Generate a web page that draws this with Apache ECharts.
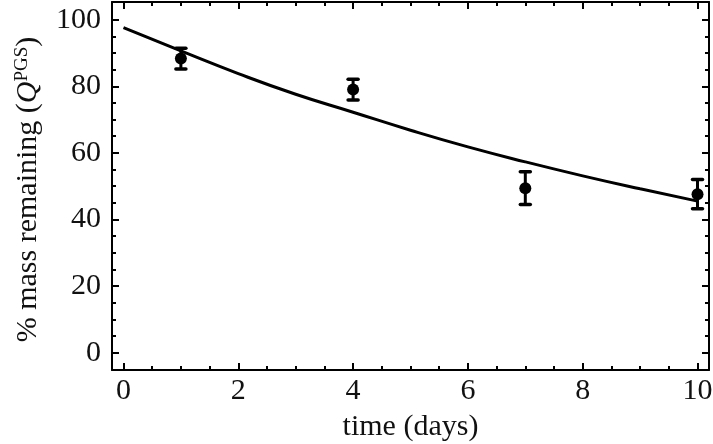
<!DOCTYPE html>
<html>
<head>
<meta charset="utf-8">
<script src="https://cdn.jsdelivr.net/npm/echarts@6/dist/echarts.min.js"></script>
<style>html,body{margin:0;padding:0;background:#fff}#c{width:713px;height:444px}</style>
</head>
<body>
<div id="c"></div>
<script>
// Data
var days = [1, 4, 7, 10];
var massMean = [88.3, 79.0, 49.4, 47.6];
var massErr = [3.1, 3.1, 4.9, 4.4];
var fitDays = [0, 1, 2, 3, 4, 5, 6, 7, 8, 9, 10];
var fitMass = [97.6, 90.6, 83.8, 77.6, 72.2, 66.8, 61.8, 57.3, 53.1, 49.2, 45.5];
var xMajorTicks = [0, 2, 4, 6, 8, 10];
var xMinorTicks = [0.5, 1, 1.5, 2.5, 3, 3.5, 4.5, 5, 5.5, 6.5, 7, 7.5, 8.5, 9, 9.5];
var yMajorTicks = [0, 20, 40, 60, 80, 100];
var yMinorTicks = [5, 10, 15, 25, 30, 35, 45, 50, 55, 65, 70, 75, 85, 90, 95];

var FONT = 'Liberation Serif';
var FS = 30;
var XMIN = -0.2, XMAX = 10.2, YMIN = -5.2, YMAX = 105.3;

function xAx(pos, ticks, len, showLine, showLabel, name) {
  var a = {
    type: 'value', position: pos, min: XMIN, max: XMAX,
    axisLine: {show: showLine, onZero: false, lineStyle: {color: '#000', width: 2}},
    axisTick: {show: true, inside: true, length: len, customValues: ticks, lineStyle: {color: '#000', width: 2}},
    axisLabel: {show: showLabel, customValues: ticks, fontFamily: FONT, fontSize: FS, color: '#111', margin: 6},
    splitLine: {show: false}
  };
  if (name) {
    a.name = name; a.nameLocation = 'middle'; a.nameGap = 42;
    a.nameTextStyle = {fontFamily: FONT, fontSize: FS, color: '#111'};
  }
  return a;
}
function yAx(pos, ticks, len, showLine, showLabel, named) {
  var a = {
    type: 'value', position: pos, min: YMIN, max: YMAX,
    axisLine: {show: showLine, onZero: false, lineStyle: {color: '#000', width: 2}},
    axisTick: {show: true, inside: true, length: len, customValues: ticks, lineStyle: {color: '#000', width: 2}},
    axisLabel: {show: showLabel, customValues: ticks, fontFamily: FONT, fontSize: FS, color: '#111', margin: 11},
    splitLine: {show: false}
  };
  if (named) {
    a.name = '{n|% mass remaining (}{q|Q}{s|PGS}{n|)}';
    a.nameLocation = 'middle'; a.nameGap = 68; a.nameRotate = 90;
    a.nameTextStyle = {
      fontFamily: FONT, fontSize: FS, color: '#111', padding: [0, 7, 0, 0],
      rich: {
        n: {fontFamily: FONT, fontSize: FS, color: '#111'},
        q: {fontFamily: FONT, fontSize: FS, fontStyle: 'italic', color: '#111'},
        s: {fontFamily: FONT, fontSize: 19, color: '#111', verticalAlign: 'top', padding: [0, 0, 12, 0]}
      }
    };
  }
  return a;
}

var chart = echarts.init(document.getElementById('c'), null, {renderer: 'canvas'});
chart.setOption({
  animation: false,
  backgroundColor: '#fff',
  grid: {left: 112, right: 4, top: 2, bottom: 74, containLabel: false, outerBoundsMode: 'none'},
  xAxis: [
    xAx('bottom', xMajorTicks, 7, true, true, 'time (days)'),
    xAx('bottom', xMinorTicks, 4, false, false),
    xAx('top', xMajorTicks, 7, true, false),
    xAx('top', xMinorTicks, 4, false, false)
  ],
  yAxis: [
    yAx('left', yMajorTicks, 7, true, true, true),
    yAx('left', yMinorTicks, 4, false, false),
    yAx('right', yMajorTicks, 7, true, false),
    yAx('right', yMinorTicks, 4, false, false)
  ],
  series: [
    {
      type: 'line', xAxisIndex: 0, yAxisIndex: 0, smooth: true, symbol: 'none',
      lineStyle: {color: '#000', width: 3},
      data: fitDays.map(function (d, i) { return [d, fitMass[i]]; }),
      z: 3
    },
    {
      type: 'custom', xAxisIndex: 0, yAxisIndex: 0,
      data: days.map(function (d, i) { return [d, massMean[i] - massErr[i], massMean[i] + massErr[i]]; }),
      renderItem: function (params, api) {
        var lo = api.coord([api.value(0), api.value(1)]);
        var hi = api.coord([api.value(0), api.value(2)]);
        var w = 5;
        var st = {stroke: '#000', lineWidth: 3};
        var cap = {stroke: '#000', lineWidth: 3.5, lineCap: 'round'};
        return {
          type: 'group', children: [
            {type: 'line', shape: {x1: lo[0], y1: lo[1], x2: hi[0], y2: hi[1]}, style: st},
            {type: 'line', shape: {x1: lo[0] - w, y1: lo[1], x2: lo[0] + w, y2: lo[1]}, style: cap},
            {type: 'line', shape: {x1: hi[0] - w, y1: hi[1], x2: hi[0] + w, y2: hi[1]}, style: cap}
          ]
        };
      },
      z: 4
    },
    {
      type: 'scatter', xAxisIndex: 0, yAxisIndex: 0, symbol: 'circle', symbolSize: 12,
      itemStyle: {color: '#000', opacity: 1},
      data: days.map(function (d, i) { return [d, massMean[i]]; }),
      z: 5
    }
  ]
});
</script>
</body>
</html>
